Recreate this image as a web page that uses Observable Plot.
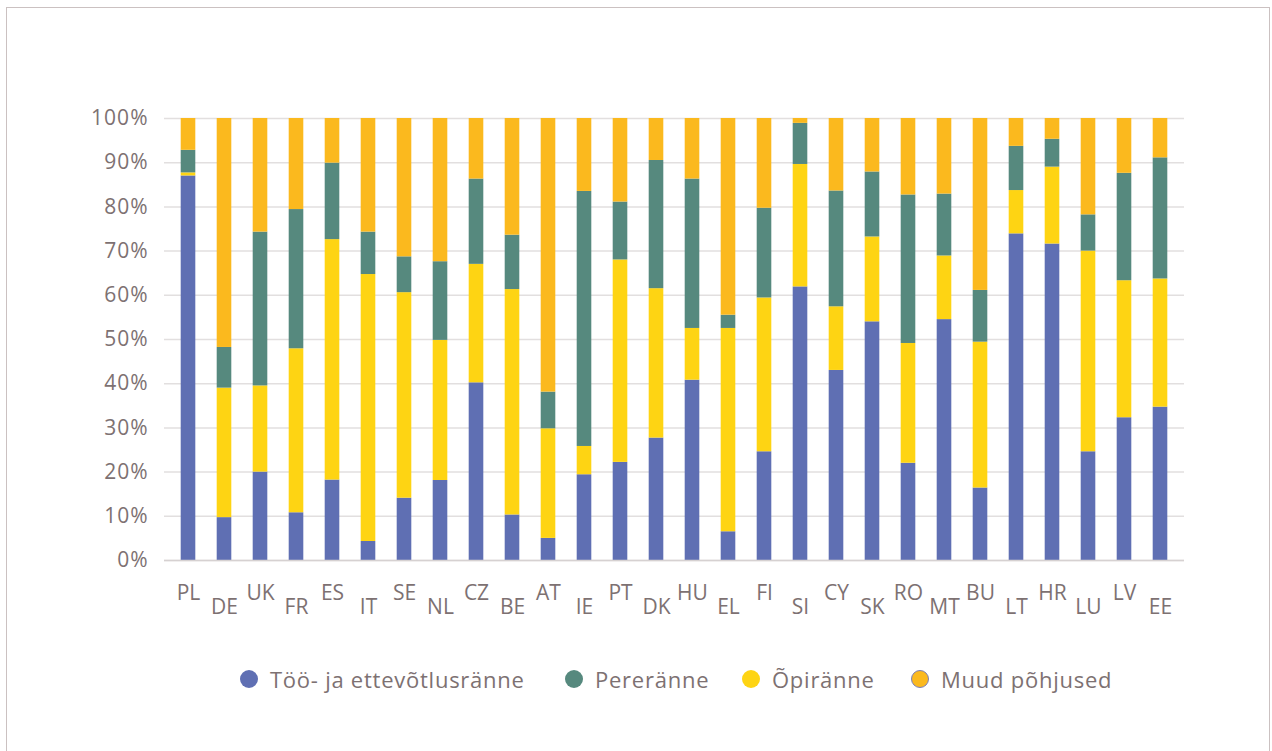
<!DOCTYPE html>
<html>
<head>
<meta charset="utf-8">
<script src="https://cdn.jsdelivr.net/npm/d3@7"></script>
<script src="https://cdn.jsdelivr.net/npm/@observablehq/plot@0.6"></script>
<style>
  html, body { margin: 0; padding: 0; background: #fff; }
  #wrap { position: relative; width: 1272px; height: 751px; overflow: hidden; font-family: "Open Sans", Lato, sans-serif; }
  #frame { position: absolute; left: 6px; top: 7px; width: 1264px; height: 780px; border: 1.5px solid #cbc1c1; box-sizing: border-box; }
  #chart { position: absolute; left: 0; top: 0; }
  #legend { position: absolute; top: 663px; left: 0; width: 1272px; height: 32px; font-size: 22px; letter-spacing: 0.75px; color: #7d7172; }
  .item { position: absolute; top: 0; display: flex; align-items: center; height: 32px; white-space: nowrap; }
  .dot { width: 18px; height: 18px; border-radius: 50%; margin-right: 12px; box-sizing: border-box; }
</style>
</head>
<body>
<div id="wrap">
  <div id="frame"></div>
  <div id="chart"></div>
  <div id="legend"></div>
</div>
<script>
const countries = ["PL","DE","UK","FR","ES","IT","SE","NL","CZ","BE","AT","IE","PT","DK","HU","EL","FI","SI","CY","SK","RO","MT","BU","LT","HR","LU","LV","EE"];
const work   = [87.0, 9.7, 20.0, 10.8, 18.2, 4.3, 14.1, 18.1, 40.2, 10.3, 5.0, 19.4, 22.2, 27.7, 40.8, 6.5, 24.6, 61.9, 43.0, 54.0, 22.0, 54.5, 16.4, 73.9, 71.6, 24.6, 32.3, 34.7];
const study  = [0.7, 29.3, 19.5, 37.1, 54.4, 60.4, 46.5, 31.7, 26.8, 51.0, 24.8, 6.4, 45.8, 33.8, 11.7, 46.0, 34.8, 27.7, 14.4, 19.2, 27.1, 14.4, 33.0, 9.8, 17.4, 45.4, 31.0, 29.0];
const family = [5.1, 9.2, 34.8, 31.5, 17.3, 9.6, 8.1, 17.8, 19.3, 12.3, 8.3, 57.7, 13.1, 29.0, 33.8, 3.0, 20.3, 9.3, 26.2, 14.7, 33.6, 14.0, 11.7, 10.0, 6.3, 8.2, 24.3, 27.4];
const other  = [7.2, 51.8, 25.7, 20.6, 10.1, 25.7, 31.3, 32.4, 13.7, 26.4, 61.9, 16.5, 18.9, 9.5, 13.7, 44.5, 20.3, 1.1, 16.4, 12.1, 17.3, 17.1, 38.9, 6.3, 4.7, 21.8, 12.4, 8.9];
const seriesNames = ["Töö- ja ettevõtlusränne", "Pereränne", "Õpiränne", "Muud põhjused"];
const seriesColors = ["#5f6fb3", "#56897e", "#fed413", "#fbb91e"];
const stackOrder = ["Töö- ja ettevõtlusränne", "Õpiränne", "Pereränne", "Muud põhjused"];
const yTicks = [0, 10, 20, 30, 40, 50, 60, 70, 80, 90, 100];

const valuesBySeries = {
  "Töö- ja ettevõtlusränne": work,
  "Pereränne": family,
  "Õpiränne": study,
  "Muud põhjused": other
};
const rows = [];
countries.forEach((c, i) => {
  stackOrder.forEach(s => rows.push({country: c, series: s, value: valuesBySeries[s][i]}));
});
const txt = "#7d7172";

const chart = Plot.plot({
  width: 1272,
  height: 640,
  marginLeft: 164,
  marginRight: 88,
  marginTop: 118,
  marginBottom: 80,
  style: {fontFamily: "'Open Sans', Lato, sans-serif", background: "transparent"},
  x: {domain: countries, padding: 0, axis: null},
  y: {domain: [0, 100], axis: null},
  color: {domain: seriesNames, range: seriesColors},
  marks: [
    Plot.ruleY(yTicks, {stroke: "#e2dfdf", strokeWidth: 1.5}),
    Plot.barY(rows, Plot.stackY({
      x: "country", y: "value", fill: "series",
      order: stackOrder, insetLeft: 10.7, insetRight: 10.7
    })),
    Plot.ruleY([0], {stroke: "#d6d1d1", strokeWidth: 1.5}),
    Plot.text(yTicks, {
      y: d => d, text: d => d + "%", frameAnchor: "left", textAnchor: "end",
      dx: -16, fontSize: 21, fill: txt
    }),
    Plot.text(countries.filter((d, i) => i % 2 === 0), {
      x: d => d, y: 0, dy: 33, text: d => d, fontSize: 21, fill: txt
    }),
    Plot.text(countries.filter((d, i) => i % 2 === 1), {
      x: d => d, y: 0, dy: 47, text: d => d, fontSize: 21, fill: txt
    })
  ]
});
d3.select(chart).selectAll("g[aria-label=text]").filter((d, i) => i === 0).attr("letter-spacing", "1px");
document.getElementById("chart").appendChild(chart);

const legendX = [240, 565, 742, 911];
const legend = document.getElementById("legend");
seriesNames.forEach((s, i) => {
  const item = document.createElement("div");
  item.className = "item";
  item.style.left = legendX[i] + "px";
  const dot = document.createElement("span");
  dot.className = "dot";
  dot.style.background = seriesColors[i];
  if (i === 3) dot.style.border = "1px solid #7b7fb8";
  const label = document.createElement("span");
  label.textContent = s;
  item.appendChild(dot);
  item.appendChild(label);
  legend.appendChild(item);
});
</script>
</body>
</html>
